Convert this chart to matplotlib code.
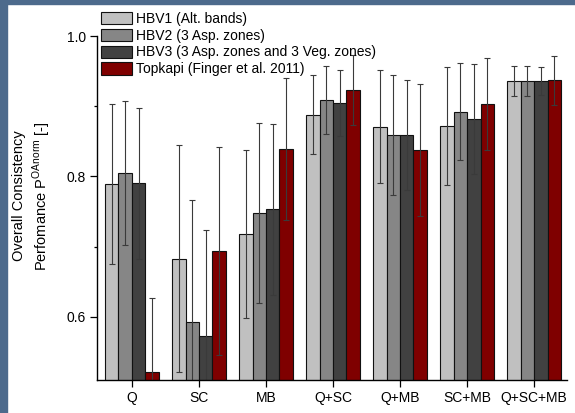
import matplotlib
matplotlib.use("Agg")
import matplotlib.pyplot as plt
import numpy as np
from matplotlib.patches import Rectangle
from matplotlib.ticker import MultipleLocator

# categories on the x axis
categories = ["Q", "SC", "MB", "Q+SC", "Q+MB", "SC+MB", "Q+SC+MB"]

series_names = [
    "HBV1 (Alt. bands)",
    "HBV2 (3 Asp. zones)",
    "HBV3 (3 Asp. zones and 3 Veg. zones)",
    "Topkapi (Finger et al. 2011)",
]

# mean performance per category
hbv1_values = [0.789, 0.683, 0.718, 0.888, 0.871, 0.872, 0.936]
hbv2_values = [0.805, 0.592, 0.748, 0.909, 0.859, 0.892, 0.936]
hbv3_values = [0.790, 0.573, 0.753, 0.905, 0.859, 0.882, 0.936]
topkapi_values = [0.522, 0.694, 0.839, 0.923, 0.837, 0.903, 0.937]

# error (+/-) per category
hbv1_errors = [0.114, 0.162, 0.120, 0.056, 0.080, 0.084, 0.021]
hbv2_errors = [0.102, 0.175, 0.128, 0.048, 0.085, 0.069, 0.021]
hbv3_errors = [0.108, 0.150, 0.122, 0.047, 0.079, 0.078, 0.020]
topkapi_errors = [0.105, 0.148, 0.101, 0.050, 0.094, 0.066, 0.035]

bar_colors = ["#c0c0c0", "#868686", "#414141", "#7f0000"]

plt.rcParams["font.family"] = ["Liberation Sans", "DejaVu Sans"]
plt.rcParams["mathtext.fontset"] = "custom"
plt.rcParams["mathtext.rm"] = "Liberation Sans"

FONT_SIZE = 10


def main():
    figure = plt.figure(figsize=(5.75, 4.13), dpi=100)

    # slide background strips (left and top)
    figure.patches.append(Rectangle((0, 0), 7 / 575, 1, transform=figure.transFigure,
                                    color="#4d6a8c", zorder=0))
    figure.patches.append(Rectangle((0, 1 - 4 / 413), 1, 4 / 413, transform=figure.transFigure,
                                    color="#4d6a8c", zorder=0))

    axis = figure.add_axes([97 / 575, 1 - 380 / 413, 470 / 575, 344 / 413])

    values = [hbv1_values, hbv2_values, hbv3_values, topkapi_values]
    errors = [hbv1_errors, hbv2_errors, hbv3_errors, topkapi_errors]

    x = np.arange(len(categories))
    width = 0.2
    for i in range(4):
        offset = (i - 1.5) * width
        axis.bar(
            x + offset, values[i], width,
            color=bar_colors[i], edgecolor="#111111", linewidth=0.8,
            label=series_names[i],
            yerr=errors[i],
            error_kw=dict(ecolor="#3a3a3a", elinewidth=0.8, capsize=2.5, capthick=0.8),
        )

    axis.set_xlim(-0.52, 6.49)
    axis.set_ylim(0.51, 1.0)
    axis.set_xticks(x)
    axis.set_xticklabels(categories)
    axis.yaxis.set_minor_locator(MultipleLocator(0.1))
    axis.set_yticks([0.6, 0.8, 1.0])
    axis.set_yticklabels(["0.6", "0.8", "1.0"])

    axis.spines["top"].set_visible(False)
    axis.spines["right"].set_visible(False)
    for side in ["left", "bottom"]:
        axis.spines[side].set_linewidth(1.0)

    axis.tick_params(axis="both", which="major", direction="out", length=5,
                     width=0.9, labelsize=FONT_SIZE, pad=3)
    axis.tick_params(axis="y", which="minor", direction="out", length=2.5, width=0.9)
    axis.tick_params(axis="x", which="minor", bottom=False)

    axis.set_ylabel("Overall Consistency\nPerfomance P$^{\\mathrm{OAnorm}}$ [-]",
                    fontsize=10.5, linespacing=1.3)
    axis.yaxis.set_label_coords(-0.094, 0.535)

    axis.legend(
        loc="upper left", bbox_to_anchor=(0.008, 1.07), frameon=False,
        fontsize=FONT_SIZE, borderpad=0, handlelength=2.25, handleheight=1.0,
        labelspacing=0.2, handletextpad=0.3, borderaxespad=0,
    )

    figure.savefig("out.png", dpi=100)


if __name__ == "__main__":
    main()
